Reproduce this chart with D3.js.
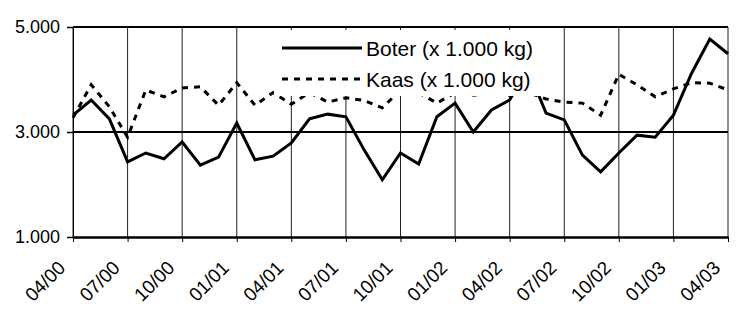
<!DOCTYPE html>
<html>
<head>
<meta charset="utf-8">
<script src="https://cdn.jsdelivr.net/npm/d3@7"></script>
<style>
  body { margin: 0; background: #fff; }
  text { font-family: "Liberation Sans", Arial, sans-serif; fill: #000; }
</style>
</head>
<body>
<script>

// months on the category axis (04/00 .. 04/03)
var months = ["04/00","05/00","06/00","07/00","08/00","09/00","10/00","11/00","12/00",
              "01/01","02/01","03/01","04/01","05/01","06/01","07/01","08/01","09/01",
              "10/01","11/01","12/01","01/02","02/02","03/02","04/02","05/02","06/02",
              "07/02","08/02","09/02","10/02","11/02","12/02","01/03","02/03","03/03","04/03"];

// every third month gets a label
var xLabels = ["04/00","07/00","10/00","01/01","04/01","07/01","10/01","01/02","04/02",
               "07/02","10/02","01/03","04/03"];

// boter (x 1.000 kg)
var boter = [3320, 3610, 3250, 2430, 2600, 2490, 2810, 2370, 2520, 3170, 2470, 2540, 2790,
             3250, 3340, 3290, 2660, 2090, 2600, 2390, 3290, 3550, 3000, 3420, 3610, 4200,
             3360, 3230, 2560, 2240, 2600, 2940, 2900, 3320, 4120, 4770, 4490];

// kaas (x 1.000 kg)
var kaas = [3270, 3900, 3480, 2900, 3800, 3670, 3840, 3860, 3510, 3940, 3510, 3750, 3530,
            3750, 3570, 3650, 3600, 3460, 3800, 3750, 3550, 3750, 3700, 3750, 3700, 3750,
            3630, 3570, 3550, 3320, 4100, 3900, 3670, 3820, 3940, 3930, 3800];

var yTicks = [1000, 3000, 5000];
var yTickLabels = ["1.000", "3.000", "5.000"];
var seriesNames = ["Boter (x 1.000 kg)", "Kaas (x 1.000 kg)"];

var w = 739, h = 312;
var margin = {top: 27, right: 11, bottom: 75, left: 73};

var svg = d3.select("body").append("svg")
    .attr("width", w)
    .attr("height", h);

// scales
var xscale = d3.scalePoint()
    .domain(months)
    .range([margin.left, w - margin.right]);

var yscale = d3.scaleLinear()
    .domain([1000, 5000])
    .range([h - margin.bottom, margin.top]);

// vertical gridlines at labelled months
svg.append("g").selectAll("line")
    .data(xLabels).enter().append("line")
    .attr("x1", function(d) { return xscale(d); })
    .attr("x2", function(d) { return xscale(d); })
    .attr("y1", yscale(5000))
    .attr("y2", yscale(1000))
    .attr("stroke", "#222")
    .attr("stroke-width", 1);

// horizontal gridlines
svg.append("g").selectAll("line")
    .data(yTicks.slice(1)).enter().append("line")
    .attr("x1", xscale.range()[0])
    .attr("x2", xscale.range()[1])
    .attr("y1", function(d) { return yscale(d); })
    .attr("y2", function(d) { return yscale(d); })
    .attr("stroke", "#000")
    .attr("stroke-width", 2);

// y axis
var yaxis = svg.append("g")
    .attr("transform", "translate(" + margin.left + ",0)")
    .call(d3.axisLeft(yscale)
        .tickValues(yTicks)
        .tickFormat(function(d, i) { return yTickLabels[i]; })
        .tickSize(6).tickSizeOuter(0).tickPadding(7));
yaxis.select(".domain").attr("stroke", "#000").attr("stroke-width", 1);
yaxis.selectAll(".tick line").attr("stroke", "#000").attr("stroke-width", 1.5);
yaxis.selectAll("text")
    .attr("font-size", "18px")
    .attr("font-family", "Liberation Sans, Arial, sans-serif")
    .attr("fill", "#000");

// x axis
var xaxis = svg.append("g")
    .attr("transform", "translate(0," + yscale(1000) + ")")
    .call(d3.axisBottom(xscale)
        .tickValues(xLabels)
        .tickSize(5).tickSizeOuter(0));
xaxis.select(".domain").attr("stroke", "#000").attr("stroke-width", 2.5);
xaxis.selectAll(".tick line").attr("stroke", "#000");
xaxis.selectAll("text")
    .attr("font-size", "19px")
    .attr("font-family", "Liberation Sans, Arial, sans-serif")
    .attr("fill", "#000")
    .attr("text-anchor", "end")
    .attr("y", 0).attr("dy", 0)
    .attr("transform", "translate(-7,32) rotate(-45)");

// lines
var line = d3.line()
    .x(function(d, i) { return xscale(months[i]); })
    .y(function(d) { return yscale(d); });

svg.append("path")
    .datum(kaas)
    .attr("d", line)
    .attr("fill", "none")
    .attr("stroke", "#000")
    .attr("stroke-width", 3)
    .attr("stroke-dasharray", "6,6");

svg.append("path")
    .datum(boter)
    .attr("d", line)
    .attr("fill", "none")
    .attr("stroke", "#000")
    .attr("stroke-width", 3)
    .attr("stroke-linejoin", "miter");

// legend (white box covering the lines)
var legend = svg.append("g");
legend.append("rect")
    .attr("x", 274).attr("y", 30)
    .attr("width", 268).attr("height", 66)
    .attr("fill", "#fff");

var legendY = [48, 79];
var dashes = [null, "6,6"];
for (var i = 0; i < seriesNames.length; i++) {
    legend.append("line")
        .attr("x1", 282).attr("x2", 362)
        .attr("y1", legendY[i]).attr("y2", legendY[i])
        .attr("stroke", "#000").attr("stroke-width", 3)
        .attr("stroke-dasharray", dashes[i]);
    legend.append("text")
        .attr("x", 366).attr("y", legendY[i])
        .attr("dy", "0.36em")
        .attr("font-size", "21px")
        .text(seriesNames[i]);
}

</script>
</body>
</html>
